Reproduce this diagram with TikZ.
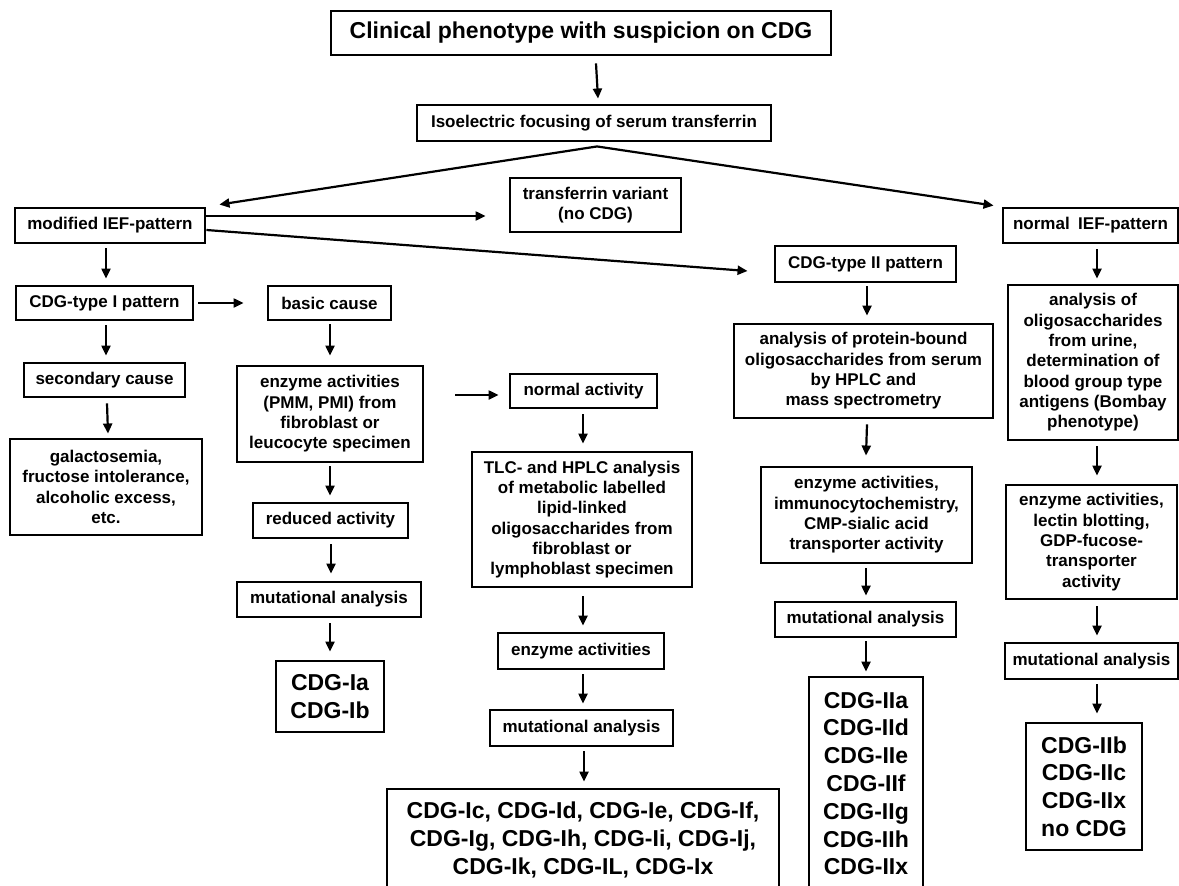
\documentclass[tikz,border=0pt]{standalone}
\usepackage{fontspec}
\setmainfont{Liberation Sans}
\usetikzlibrary{arrows.meta,calc}
\newcommand\smalltxt{\fontsize{17}{20.3}\selectfont\bfseries}
\newcommand\bigtxt{\fontsize{23}{27.8}\selectfont\bfseries}
\newcommand\headtxt{\fontsize{23}{28}\selectfont\bfseries}
\begin{document}
\begin{tikzpicture}[x=1pt,y=-1pt,
  box/.style={draw, line width=2.9pt, inner sep=0pt, align=center, font=\smalltxt},
  sz/.style 2 args={minimum width=#1pt, minimum height=#2pt},
  arr/.style={line width=2.2pt, -{Triangle[length=10pt,width=9pt]}}]
\useasboundingbox (0,0) rectangle (1179,886);
\fill[white] (0,0) rectangle (1179,886);
\clip (0,0) rectangle (1179,886);

% top of the flow
\node[box, font=\headtxt, sz={500}{44}] (title) at (581,33) {Clinical phenotype with suspicion on CDG};
\node[box, sz={354}{36}] (iso) at (594,123) {Isoelectric focusing of serum transferrin};
\coordinate (apex) at ($(iso.south)+(3,4)$);

% second level
\node[box, sz={190}{35}] (modif) at (110,225.5) {modified IEF-pattern};
\node[box, sz={171}{54}] (variant) at (595.5,205) {transferrin variant\\(no CDG)};
\node[box, sz={181}{36}] (typeII) at (865.5,264) {CDG-type II pattern};
\node[box, sz={175}{35}] (normIEF) at (1090.5,225.5) {normal\enspace IEF-pattern};

% CDG type I branch
\node[box, sz={177}{34}] (typeI) at (104.5,303) {CDG-type I pattern};
\node[box, sz={123}{34}] (basic) at (329.5,303) {basic cause};
\node[box, sz={161}{34}] (second) at (104.5,380) {secondary cause};
\node[box, sz={192}{96}] (galacto) at (106,487) {galactosemia,\\fructose intolerance,\\alcoholic excess,\\etc.};
\node[box, sz={186}{96}] (enz1) at (330,414) {enzyme activities\\(PMM, PMI) from\\fibroblast or\\leucocyte specimen};
\node[box, sz={147}{34}] (normact) at (583.5,391) {normal activity};
\node[box, sz={155}{35}] (reduced) at (330.5,520.5) {reduced activity};
\node[box, sz={184}{35}] (mut1) at (329,599.5) {mutational analysis};
\node[box, font=\bigtxt, sz={108}{71}] (cdgIab) at (330,696.5) {CDG-Ia\\CDG-Ib};
\node[box, sz={220}{135}] (tlc) at (582,519.5) {TLC- and HPLC analysis\\of metabolic labelled\\lipid-linked\\oligosaccharides from\\fibroblast or\\lymphoblast specimen};
\node[box, sz={166}{36}] (enz2) at (581,651) {enzyme activities};
\node[box, sz={183}{36}] (mut2) at (581.5,728) {mutational analysis};
\node[box, font=\bigtxt, sz={392}{102}] (cdgIc) at (583,840) {CDG-Ic, CDG-Id, CDG-Ie, CDG-If,\\CDG-Ig, CDG-Ih, CDG-Ii, CDG-Ij,\\CDG-Ik, CDG-IL, CDG-Ix};

% CDG type II branch
\node[box, sz={259}{94}] (anaProt) at (863.5,371) {analysis of protein-bound\\oligosaccharides from serum\\by HPLC and\hspace*{24pt}\\mass spectrometry};
\node[box, sz={211}{96}] (enz3) at (866.5,515) {enzyme activities,\\immunocytochemistry,\\CMP-sialic acid\\transporter activity};
\node[box, sz={181}{35}] (mut3) at (865.5,619.5) {mutational analysis};
\node[box, font=\bigtxt, sz={114}{213}] (cdgII) at (866,783.5) {CDG-IIa\\CDG-IId\\CDG-IIe\\CDG-IIf\\CDG-IIg\\CDG-IIh\\CDG-IIx};

% normal pattern branch
\node[box, sz={170}{155}] (anaOligo) at (1093,362.5) {analysis of\\oligosaccharides\\from urine,\\determination of\\blood group type\\antigens (Bombay\\phenotype)};
\node[box, sz={171}{114}] (enz4) at (1091.5,542) {enzyme activities,\\lectin blotting,\\GDP-fucose-\\transporter\\activity};
\node[box, sz={173}{36}] (mut4) at (1091.5,661) {mutational analysis};
\node[box, font=\bigtxt, sz={116}{127}] (cdgIIb) at (1084,786.5) {CDG-IIb\\CDG-IIc\\CDG-IIx\\no CDG};

% connectors
\draw[arr] ($(title.south)+(15,7)$) -- ($(iso.north)+(4,-5)$);
\draw[arr] (apex) -- ($(modif.north east)+(13,-2)$);
\draw[arr] (apex) -- ($(normIEF.north west)+(-8,-1)$);
\draw[arr] ($(modif.east)+(0,-9.5)$) -- ($(variant.west)+(-23,11)$);
\draw[arr] ($(modif.east)+(0,4.5)$) -- ($(typeII.west)+(-26,7)$);
\draw[arr] ($(modif.south)+(-4,4)$) -- ($(typeI.north)+(1.5,-6)$);
\draw[arr] ($(typeI.east)+(4,0)$) -- ($(basic.west)+(-23,0)$);
\draw[arr] ($(typeI.south)+(1.5,4)$) -- ($(second.north)+(1.5,-6)$);
\draw[arr] ($(second.south)+(2.5,5)$) -- ($(galacto.north)+(2,-4)$);
\draw[arr] ($(basic.south)+(0.5,3)$) -- ($(enz1.north)+(0,-9)$);
\draw[arr] ($(enz1.east)+(31,-19)$) -- ($(normact.west)+(-10,4)$);
\draw[arr] ($(enz1.south)+(0,3)$) -- ($(reduced.north)+(-0.5,-6)$);
\draw[arr] ($(reduced.south)+(0.5,5)$) -- ($(mut1.north)+(2,-7)$);
\draw[arr] ($(mut1.south)+(1,5)$) -- ($(cdgIab.north)+(0,-8)$);
\draw[arr] ($(normact.south)+(-0.5,5)$) -- ($(tlc.north)+(1,-7)$);
\draw[arr] ($(tlc.south)+(1,8)$) -- ($(enz2.north)+(2,-6)$);
\draw[arr] ($(enz2.south)+(2,4)$) -- ($(mut2.north)+(1.5,-5)$);
\draw[arr] ($(mut2.south)+(2.5,4)$) -- ($(cdgIc.north)+(1,-6)$);
\draw[arr] ($(typeII.south)+(1.5,3)$) -- ($(anaProt.north)+(3.5,-7)$);
\draw[arr] ($(anaProt.south)+(3.5,5)$) -- ($(enz3.north)+(-0.5,-10)$);
\draw[arr] ($(enz3.south)+(-0.5,4)$) -- ($(mut3.north)+(0.5,-5)$);
\draw[arr] ($(mut3.south)+(0.5,3)$) -- ($(cdgII.north)+(0,-4)$);
\draw[arr] ($(normIEF.south)+(6.5,5)$) -- ($(anaOligo.north)+(4,-5)$);
\draw[arr] ($(anaOligo.south)+(4,5)$) -- ($(enz4.north)+(5.5,-8)$);
\draw[arr] ($(enz4.south)+(5.5,6)$) -- ($(mut4.north)+(5.5,-6)$);
\draw[arr] ($(mut4.south)+(5.5,4)$) -- ($(cdgIIb.north)+(13,-8)$);
\end{tikzpicture}
\end{document}
